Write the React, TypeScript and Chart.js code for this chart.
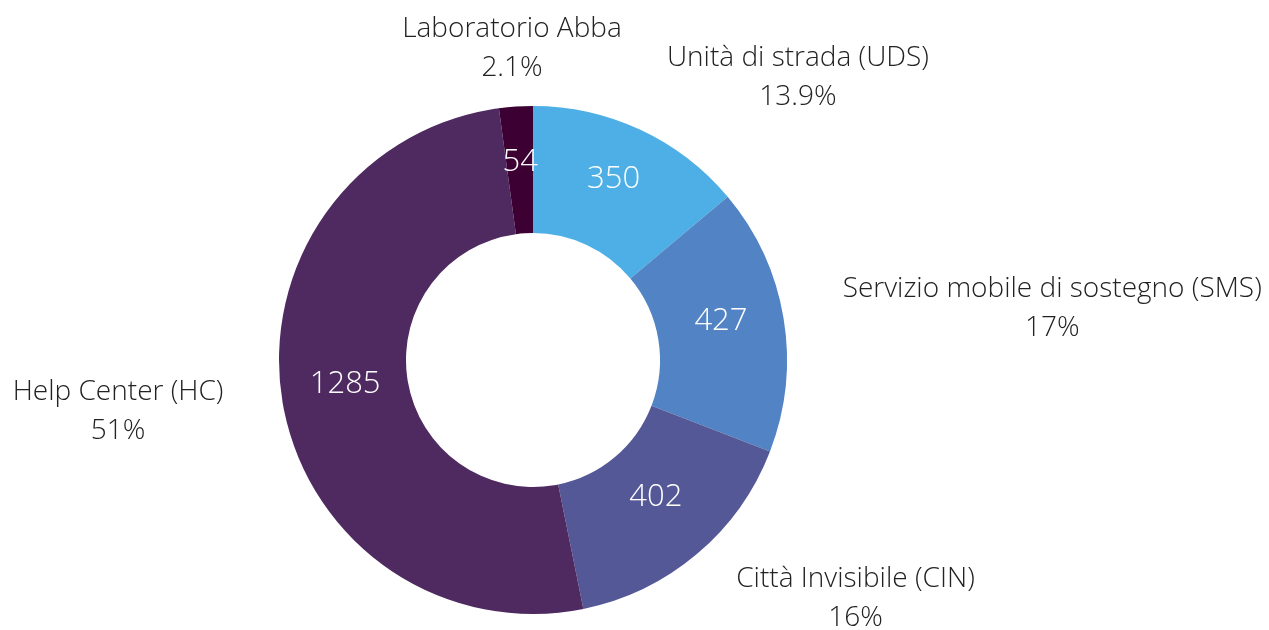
import React, { useEffect, useRef } from "react";
import { Chart, registerables } from "chart.js";

Chart.register(...registerables);

const categories = [
  "Unità di strada (UDS)",
  "Servizio mobile di sostegno (SMS)",
  "Città Invisibile (CIN)",
  "Help Center (HC)",
  "Laboratorio Abba",
];
const values = [350, 427, 402, 1285, 54];
const colors = ["#4DAFE5", "#5283C4", "#555896", "#4E2A60", "#3C0032"];

const fmtPct = (v: number, total: number) => {
  const s = ((v / total) * 100).toFixed(1);
  return (s.endsWith(".0") ? s.slice(0, -2) : s) + "%";
};

const labelsPlugin = {
  id: "outerLabels",
  afterDatasetsDraw(chart: any) {
    const ctx = chart.ctx as CanvasRenderingContext2D;
    const meta = chart.getDatasetMeta(0);
    const data = chart.data.datasets[0].data as number[];
    const total = data.reduce((a, b) => a + b, 0);
    meta.data.forEach((arc: any, i: number) => {
      const p = arc.getProps(
        ["x", "y", "startAngle", "endAngle", "innerRadius", "outerRadius"],
        true
      );
      const mid = (p.startAngle + p.endAngle) / 2;
      const c = Math.cos(mid);
      const s = Math.sin(mid);
      // inner value
      const rm = (p.innerRadius + p.outerRadius) / 2;
      ctx.save();
      ctx.fillStyle = "#ffffff";
      ctx.font = "300 31px 'Open Sans'";
      ctx.textAlign = "center";
      ctx.textBaseline = "middle";
      ctx.fillText(String(data[i]), p.x + c * rm, p.y + s * rm - 8);
      // outer label
      const ro = p.outerRadius * 1.228;
      const ax = p.x + c * ro;
      const ay = p.y + s * ro;
      ctx.font = "300 28px 'Open Sans'";
      ctx.fillStyle = "#222222";
      const lines = [chart.data.labels[i], fmtPct(data[i], total)];
      const w = Math.max(...lines.map((l: string) => ctx.measureText(l).width));
      let cx = ax;
      if (c > 0.2) cx = ax + 2 + w / 2;
      else if (c < -0.2) cx = ax - 2 - w / 2;
      ctx.fillText(lines[0], cx, ay - 19.5);
      ctx.fillText(lines[1], cx, ay + 19.5);
      ctx.restore();
    });
  },
};

export default function App() {
  const ref = useRef<HTMLCanvasElement>(null);
  useEffect(() => {
    if (!ref.current) return;
    const chart = new Chart(ref.current, {
      type: "doughnut",
      data: {
        labels: categories,
        datasets: [
          {
            data: values,
            backgroundColor: colors,
            borderWidth: 0,
          },
        ],
      },
      options: {
        animation: false,
        responsive: false,
        cutout: "50%",
        layout: { padding: { left: 279, right: 482, top: 106, bottom: 16 } },
        plugins: {
          legend: { display: false },
          tooltip: { enabled: false },
        },
      },
      plugins: [labelsPlugin],
    });
    return () => chart.destroy();
  }, []);
  return (
    <div style={{ position: "absolute", left: 0, top: 0, width: 1269, height: 630, background: "#fff" }}>
      <canvas ref={ref} width={1269} height={630} style={{ width: 1269, height: 630 }} />
    </div>
  );
}
